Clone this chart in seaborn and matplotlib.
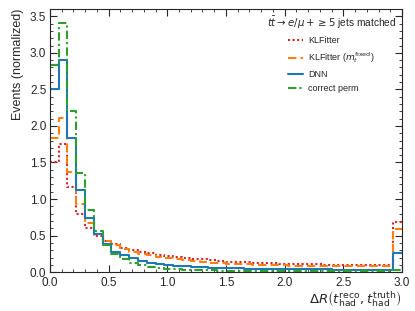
import numpy as np
import pandas as pd
import seaborn as sns
import matplotlib
matplotlib.use("Agg")
import matplotlib.pyplot as plt
import matplotlib.lines as mlines
from matplotlib.ticker import AutoMinorLocator

### 1. Data (40 bins from 0 to 3)
n_bins = 40
x_range = (0.0, 3.0)

klfitter = [1.51, 1.75, 1.16, 0.79, 0.61, 0.50, 0.43, 0.38, 0.33, 0.30,
            0.28, 0.26, 0.24, 0.22, 0.21, 0.20, 0.185, 0.175, 0.165, 0.155,
            0.145, 0.14, 0.135, 0.13, 0.125, 0.12, 0.115, 0.112, 0.11, 0.108,
            0.105, 0.103, 0.10, 0.10, 0.098, 0.097, 0.096, 0.095, 0.095, 0.69]
klfitter_fixed = [1.83, 2.11, 1.37, 0.93, 0.67, 0.52, 0.43, 0.37, 0.31, 0.28,
                  0.25, 0.23, 0.21, 0.19, 0.175, 0.165, 0.15, 0.14, 0.13, 0.12,
                  0.115, 0.11, 0.105, 0.10, 0.097, 0.094, 0.091, 0.089, 0.087, 0.085,
                  0.084, 0.083, 0.082, 0.081, 0.08, 0.08, 0.079, 0.079, 0.078, 0.59]
dnn = [2.51, 2.90, 1.83, 1.12, 0.74, 0.52, 0.38, 0.28, 0.23, 0.19,
       0.155, 0.13, 0.115, 0.10, 0.09, 0.085, 0.075, 0.068, 0.062, 0.057,
       0.053, 0.05, 0.047, 0.045, 0.043, 0.041, 0.04, 0.039, 0.038, 0.037,
       0.036, 0.036, 0.035, 0.035, 0.034, 0.034, 0.034, 0.033, 0.033, 0.26]
correct_perm = [2.83, 3.41, 2.21, 1.35, 0.85, 0.56, 0.37, 0.25, 0.18, 0.13,
                0.10, 0.075, 0.058, 0.047, 0.04, 0.035, 0.03, 0.027, 0.024, 0.022,
                0.02, 0.018, 0.017, 0.016, 0.015, 0.014, 0.013, 0.013, 0.012, 0.012,
                0.011, 0.011, 0.011, 0.01, 0.01, 0.01, 0.01, 0.01, 0.01, 0.03]

labels = ["KLFitter", r"KLFitter ($m_t^{\mathrm{fixed}}$)", "DNN", "correct perm"]
series = [klfitter, klfitter_fixed, dnn, correct_perm]
colors = ["#d62728", "#ff7f0e", "#1f77b4", "#2ca02c"]
styles = [(0, (1, 1.2)), (0, (4, 2)), "-", (0, (4, 1.5, 1, 1.5))]

edges = np.linspace(x_range[0], x_range[1], n_bins + 1)
centers = 0.5 * (edges[:-1] + edges[1:])

### 2. Style
sns.set_style("ticks")
plt.rcParams['font.family'] = ['Liberation Sans', 'DejaVu Sans']
plt.rcParams['mathtext.fontset'] = 'dejavusans'

fig = plt.figure(figsize=(4.15, 3.11), dpi=100)
ax = fig.add_axes([0.12, 0.125, 0.849, 0.846])

### 3. Histograms
for lab, vals, col, ls in zip(labels, series, colors, styles):
    df = pd.DataFrame({"dR": centers, "w": vals})
    sns.histplot(data=df, x="dR", weights="w", bins=n_bins, binrange=x_range,
                 element="step", fill=False, color=col, linestyle=ls,
                 linewidth=1.5, ax=ax)

ax.set_xlim(0, 3.0)
ax.set_ylim(0, 3.6)
ax.set_xticks([0.0, 0.5, 1.0, 1.5, 2.0, 2.5, 3.0])
ax.set_yticks([0.0, 0.5, 1.0, 1.5, 2.0, 2.5, 3.0, 3.5])
ax.xaxis.set_minor_locator(AutoMinorLocator(5))
ax.yaxis.set_minor_locator(AutoMinorLocator(5))
ax.tick_params(which='both', direction='in', top=True, right=True, labelsize=8.5)
ax.tick_params(axis='x', pad=3.5)
ax.tick_params(axis='y', pad=2.5)
ax.tick_params(which='major', length=5)
ax.tick_params(which='minor', length=2.5)
for s in ax.spines.values():
    s.set_linewidth(0.8)

ax.set_xlabel(r"$\Delta R\left(t_{\mathrm{had}}^{\mathrm{reco}}, t_{\mathrm{had}}^{\mathrm{truth}}\right)$",
              fontsize=9.5, loc='right', labelpad=0)
ax.set_ylabel("Events (normalized)", fontsize=9, loc='top')

handles = [mlines.Line2D([], [], color=c, linestyle=ls, linewidth=1.5, label=l)
           for l, c, ls in zip(labels, colors, styles)]
leg = ax.legend(handles=handles, loc='upper right', frameon=False, fontsize=6.5,
                title=r"$t\bar{t}\rightarrow e/\mu+\geq 5$ jets matched",
                title_fontsize=7.3, handlelength=1.7, handletextpad=0.5,
                labelspacing=0.55, borderaxespad=0.3)

fig.savefig("out.png", dpi=100)
